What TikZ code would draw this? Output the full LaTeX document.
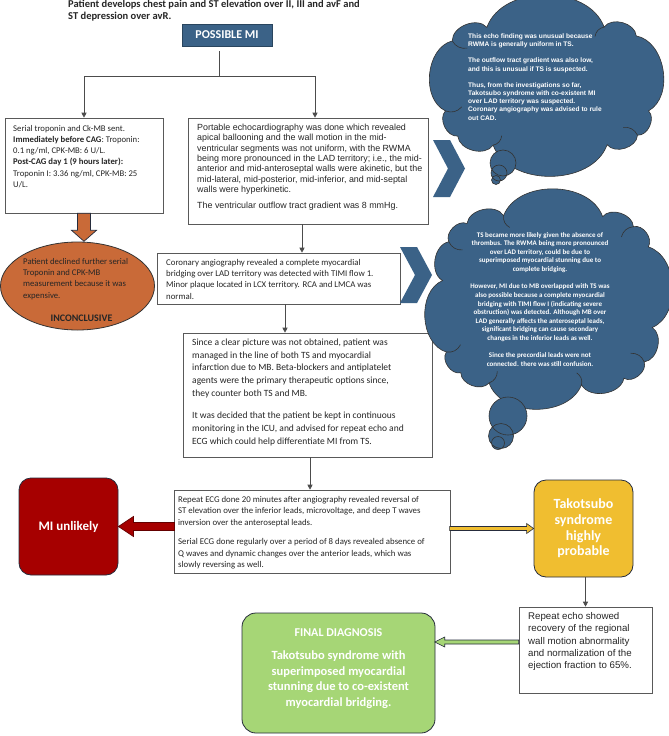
\documentclass[tikz,border=0pt]{standalone}
\usepackage{fontspec}
\setmainfont{Carlito}
\newfontfamily\arialf{Liberation Sans}
\usetikzlibrary{shapes.geometric,arrows.meta,calc}
\definecolor{cblue}{RGB}{59,98,135}
\definecolor{corange}{RGB}{201,106,56}
\definecolor{cred}{RGB}{166,0,0}
\definecolor{cyellow}{RGB}{240,190,48}
\definecolor{cgreen}{RGB}{166,214,118}
\definecolor{cedge}{RGB}{38,44,60}
\definecolor{ctext}{RGB}{38,38,38}
\begin{document}
\begin{tikzpicture}[x=1pt,y=-1pt,
  box/.style={draw=black!65, fill=white, line width=0.6pt, rectangle, inner sep=0},
  rbox/.style={draw=cedge, line width=0.8pt, rectangle, rounded corners=12pt, inner sep=0},
  txt/.style={anchor=north west, inner sep=0, align=left, text=ctext},
  conn/.style={draw=black!70, line width=0.7pt},
  arr/.style={conn, -{Triangle[length=5pt,width=5pt]}},
  blockarr/.style={draw=cedge, line width=0.7pt, line join=miter},
  cloudst/.style={fill=cblue, draw=black!80, line width=0.6pt},
  crease/.style={draw=black!80, line width=0.6pt},
]
\useasboundingbox (0,0) rectangle (669,736);
\fill[white] (0,0) rectangle (669,736);

% title
\node[anchor=north west, inner sep=0, align=left, text=ctext,
  font=\bfseries\fontsize{10.5}{12.2}\selectfont] (title) at (68,-0.5)
  {Patient develops chest pain and ST elevation over II, III and avF and\\ST depression over avR.};

\node[fill=cblue, draw=cblue!70!black, line width=0.5pt, minimum width=90, minimum height=22,
  inner sep=0, text=white, font=\bfseries\fontsize{12}{14}\selectfont] (pmi) at (227,35) {POSSIBLE MI};

% boxes
\node[box, minimum width=158, minimum height=95] (left) at (84,165.5) {};
\node[txt, font=\fontsize{8.7}{11.2}\selectfont] (lefttxt) at (13,125)
  {Serial troponin and Ck-MB sent.\\
   \textbf{Immediately before CAG}: Troponin:\\
   0.1 ng/ml, CPK-MB: 6 U/L.\\
   \textbf{Post-CAG day 1 (9 hours later):}\\
   Troponin I: 3.36 ng/ml, CPK-MB: 25\\
   U/L.};

\node[box, minimum width=240, minimum height=106] (echo) at (308,171) {};
\node[txt, font=\arialf\fontsize{8.9}{10.3}\selectfont] (echotxt) at (197,124)
  {Portable echocardiography was done which revealed\\
   apical ballooning and the wall motion in the mid-\\
   ventricular segments was not uniform, with the RWMA\\
   being more pronounced in the LAD territory; i.e., the mid-\\
   anterior and mid-anteroseptal walls were akinetic, but the\\
   mid-lateral, mid-posterior, mid-inferior, and mid-septal\\
   walls were hyperkinetic.\\[6pt]
   The ventricular outflow tract gradient was 8 mmHg.};

\node[box, minimum width=243, minimum height=51] (cor) at (278.5,278.5) {};
\node[txt, font=\fontsize{8.8}{11.3}\selectfont] (cortxt) at (166,259)
  {Coronary angiography revealed a complete myocardial\\
   bridging over LAD territory was detected with TIMI flow 1.\\
   Minor plaque located in LCX territory. RCA and LMCA was\\
   normal.};

\node[box, minimum width=249, minimum height=124] (mb) at (307.5,395) {};
\node[txt, font=\fontsize{9.5}{12.7}\selectfont] (mbtxt) at (192,338.5)
  {Since a clear picture was not obtained, patient was\\
   managed in the line of both TS and myocardial\\
   infarction due to MB. Beta-blockers and antiplatelet\\
   agents were the primary therapeutic options since,\\
   they counter both TS and MB.\\[10pt]
   It was decided that the patient be kept in continuous\\
   monitoring in the ICU, and advised for repeat echo and\\
   ECG which could help differentiate MI from TS.};

\node[box, minimum width=276, minimum height=83] (ecg) at (312,531.5) {};
\node[txt, font=\fontsize{8.8}{11.6}\selectfont] (ecgtxt) at (178,496)
  {Repeat ECG done 20 minutes after angiography revealed reversal of\\
   ST elevation over the inferior leads, microvoltage, and deep T waves\\
   inversion over the anteroseptal leads.\\[7.4pt]
   Serial ECG done regularly over a period of 8 days revealed absence of\\
   Q waves and dynamic changes over the anterior leads, which was\\
   slowly reversing as well.};

\node[box, minimum width=133, minimum height=86] (rep) at (585.5,650) {};
\node[txt, font=\arialf\fontsize{9.7}{12.2}\selectfont] (reptxt) at (528,612.5)
  {Repeat echo showed\\recovery of the regional\\wall motion abnormality\\and normalization of the\\ejection fraction to 65\%.};

% ellipse
\node[ellipse, draw=black!80, fill=corange, line width=0.8pt, minimum width=154, minimum height=88, inner sep=0] (incon) at (77.5,286) {};
\node[txt, font=\fontsize{8.7}{11.3}\selectfont] (incontxt) at (23,258)
  {Patient declined further serial\\Troponin and CPK-MB\\measurement because it was\\expensive.};
\node[inner sep=0, text=ctext, font=\bfseries\fontsize{10}{12}\selectfont] (inconlbl) at (81.5,318) {INCONCLUSIVE};

% coloured boxes
\node[rbox, fill=cred, minimum width=99, minimum height=97, text=white,
  font=\bfseries\fontsize{13}{15}\selectfont] (mi) at (68.5,526.5) {MI unlikely};
\node[rbox, fill=cyellow, minimum width=99, minimum height=97, text=white, align=center,
  font=\bfseries\fontsize{14}{15.7}\selectfont] (tak) at (583.5,528.5) {Takotsubo\\syndrome\\highly\\probable};
\node[rbox, fill=cgreen, minimum width=193, minimum height=120, rounded corners=14pt] (fin) at (338.5,673) {};
\node[inner sep=0, text=white, font=\bfseries\fontsize{12}{14}\selectfont] (finlbl) at (338.5,633) {FINAL DIAGNOSIS};
\node[anchor=north, inner sep=0, align=center, text=white,
  font=\bfseries\fontsize{12.5}{15.5}\selectfont] (fintxt) at (338.5,651)
  {Takotsubo syndrome with\\superimposed myocardial\\stunning due to co-existent\\myocardial bridging.};

% connectors
\coordinate (js) at (219,51);
\coordinate (j) at (219,76);
\draw[conn] (js) -- (j);
\draw[arr] (j) -| (left.north);
\draw[arr] (j) -| ([xshift=7pt]echo.north);
\draw[arr] ([xshift=-6pt]echo.south) -- ([xshift=-6pt]echo.south |- cor.north);
\draw[arr] ([xshift=6.5pt]cor.south) -- ([xshift=6.5pt]cor.south |- mb.north);
\draw[arr] ([xshift=2.5pt]mb.south) -- ([xshift=2.5pt]mb.south |- ecg.north);
\draw[arr] ([xshift=2pt]tak.south) -- ([xshift=2pt]tak.south |- rep.north);

% block arrows
\draw[blockarr, fill=corange] (left.south) ++(-6.5,0) -- ++(0,17) -- ++(-6,0) -- ++(12.5,11) -- ++(12.5,-11) -- ++(-6,0) -- ++(0,-17) -- cycle;
\draw[blockarr, fill=cred, draw=cred!60!black] (mi.east) -- ++(15,-10) -- ++(0,6) -- ++(41,0) -- ++(0,8) -- ++(-41,0) -- ++(0,6) -- cycle;
\draw[blockarr, fill=cyellow, line width=0.6pt] (tak.west) -- ++(-7,-5) -- ++(0,3) -- ++(-77,0) -- ++(0,4) -- ++(77,0) -- ++(0,3) -- cycle;
\draw[blockarr, fill=cgreen, line width=0.6pt] ([yshift=8pt]rep.west) ++(0,-2) -- ++(-74,0) -- ++(0,-3) -- ++(-10,5) -- ++(10,5) -- ++(0,-3) -- ++(74,0) -- cycle;

% chevrons
\fill[cblue] (433,140) -- (450,140) -- (465,168.5) -- (450,197) -- (433,197) -- (448,168.5) -- cycle;
\fill[cblue] (400,247) -- (417,247) -- (432,275) -- (417,303) -- (400,303) -- (415,275) -- cycle;

% cloud 1
\coordinate (c1c) at (547,86);
\foreach \t [count=\i from 0] in {8,40,72,104,138,172,212,252,286,318} {
  \pgfmathsetmacro\ca{cos(\t)}
  \pgfmathsetmacro\sa{sin(\t)}
  \pgfmathsetmacro\px{547+102*((\ca<0)?-1:1)*pow(max(abs(\ca),0.001),0.45)}
  \pgfmathsetmacro\py{86+60*((\sa<0)?-1:1)*pow(max(abs(\sa),0.001),0.45)}
  \coordinate (ca\i) at (\px,\py);
}
\filldraw[cloudst] (ca0) \foreach \i in {1,...,9} { to[bend left=70] (ca\i) } to[bend left=70] (ca0) -- cycle;
\foreach \i in {1,3,5,6,8} { \draw[crease] (ca\i) to[bend right=35] ($(ca\i)!0.16!(c1c)$); }

% cloud 2
\coordinate (c2c) at (547.5,300);
\foreach \t [count=\i from 0] in {6,32,58,84,108,133,158,183,208,234,260,286,312,337} {
  \pgfmathsetmacro\ca{cos(\t)}
  \pgfmathsetmacro\sa{sin(\t)}
  \pgfmathsetmacro\px{547.5+105*((\ca<0)?-1:1)*pow(max(abs(\ca),0.001),0.5)}
  \pgfmathsetmacro\py{300+85*((\sa<0)?-1:1)*pow(max(abs(\sa),0.001),0.5)}
  \coordinate (cb\i) at (\px,\py);
}
\filldraw[cloudst] (cb0) \foreach \i in {1,...,13} { to[bend left=70] (cb\i) } to[bend left=70] (cb0) -- cycle;
\foreach \i in {1,3,4,6,8,10,12} { \draw[crease] (cb\i) to[bend right=35] ($(cb\i)!0.14!(c2c)$); }

% bubbles
\fill[cblue] (503,163) circle[radius=13] (499,173) circle[radius=8] (496,180) circle[radius=4.5];
\draw[black!80, line width=0.6pt] (503,163) circle[radius=13] (499,173) circle[radius=8] (496,180) circle[radius=4.5];
\fill[cblue] (508,416) circle[radius=19] (501,436) circle[radius=12.5] (498,443) circle[radius=6.5];
\draw[black!80, line width=0.6pt] (508,416) circle[radius=19] (501,436) circle[radius=12.5] (498,443) circle[radius=6.5];

\node[anchor=north west, inner sep=0, align=left, text=white,
  font=\arialf\bfseries\fontsize{6.6}{8.3}\selectfont] (c1txt) at (468,33.5)
  {This echo finding was unusual because\\RWMA is generally uniform in TS.\\[7.7pt]
   The outflow tract gradient was also low,\\and this is unusual if TS is suspected.\\[7.7pt]
   Thus, from the investigations so far,\\Takotsubo syndrome with co-existent MI\\over LAD territory was suspected.\\
   Coronary angiography was advised to rule\\out CAD.};

\node[anchor=north, inner sep=0, align=center, text=white,
  font=\bfseries\fontsize{7}{8.6}\selectfont] (c2txt) at (540,232)
  {TS became more likely given the absence of\\thrombus. The RWMA being more pronounced\\over LAD territory, could be due to\\superimposed myocardial stunning due to\\complete bridging.\\[8.8pt]
   However, MI due to MB overlapped with TS was\\also possible because a complete myocardial\\bridging with TIMI flow I (indicating severe\\obstruction) was detected. Although MB over\\LAD generally affects the anteroseptal leads,\\significant bridging can cause secondary\\changes in the inferior leads as well.\\[8.8pt]
   Since the precordial leads were not\\connected. there was still confusion.};
\end{tikzpicture}
\end{document}
